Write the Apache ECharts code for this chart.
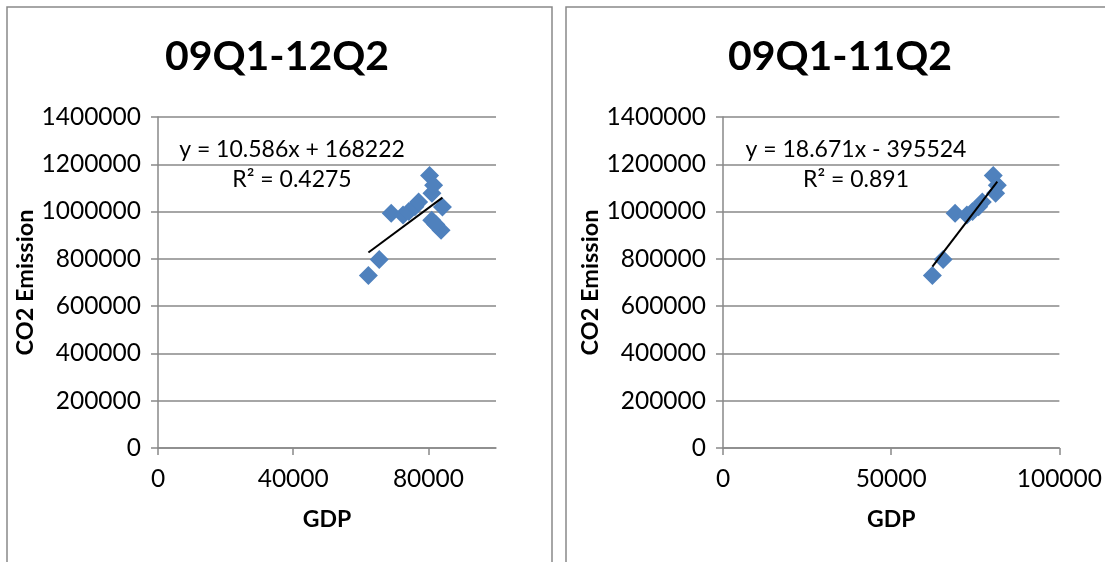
<!DOCTYPE html>
<html>
<head>
<meta charset="utf-8">
<script src="https://cdn.jsdelivr.net/npm/echarts@6/dist/echarts.min.js"></script>
<style>
html,body{margin:0;padding:0;background:#fff;}
#chart{width:1105px;height:562px;}
</style>
</head>
<body>
<div id="chart"></div>
<script>
// Quarterly GDP and CO2 emission, 09Q1 .. 12Q2 (14 quarters); the right chart uses the first 10 (09Q1 .. 11Q2)
const gdp = [62250, 65450, 69000, 72500, 74200, 76000, 77100, 80350, 81050, 81550, 84150, 83750, 81000, 82200];
const co2 = [730000, 797000, 993000, 985000, 1000000, 1020000, 1040000, 1153000, 1078000, 1111000, 1019000, 920600, 963000, 945000];
const nRight = 10;

// trendline end points
const trendLeftX = [62250, 84150];
const trendLeftY = [827000, 1059000];
const trendRightX = [62250, 81550];
const trendRightY = [766700, 1127100];

const titles = ['09Q1-12Q2', '09Q1-11Q2'];
const equations = ['y = 10.586x + 168222', 'y = 18.671x - 395524'];
const rSquared = ['R² = 0.4275', 'R² = 0.891'];

const yTicks = [0, 200000, 400000, 600000, 800000, 1000000, 1200000, 1400000];
const xTicksLeft = [0, 40000, 80000];
const xTicksRight = [0, 50000, 100000];

const FONT = 'Lato, "Open Sans", sans-serif';
const GRAY = '#898989';

function pairs(xs, ys) { return xs.map((x, i) => [x, ys[i]]); }

function xAxis(gridIndex, max, interval, ticks) {
  return {
    type: 'value', gridIndex, min: 0, max, interval,
    name: 'GDP', nameLocation: 'middle', nameGap: 60,
    nameTextStyle: { fontFamily: FONT, fontWeight: 'bold', fontSize: 23, color: '#000' },
    axisLine: { show: true, lineStyle: { color: GRAY, width: 1.5 } },
    axisTick: { show: true, length: 7, lineStyle: { color: GRAY, width: 1.5 }, customValues: ticks },
    axisLabel: { fontFamily: FONT, fontSize: 24.5, color: '#000', margin: 19, customValues: ticks, formatter: v => String(v) },
    splitLine: { show: false }
  };
}
function yAxis(gridIndex, nameGap) {
  return {
    type: 'value', gridIndex, min: 0, max: 1400000, interval: 200000,
    name: 'CO2 Emission', nameLocation: 'middle', nameGap,
    nameTextStyle: { fontFamily: FONT, fontWeight: 'bold', fontSize: 23.5, color: '#000' },
    axisLine: { show: true, lineStyle: { color: GRAY, width: 1.5 } },
    axisTick: { show: true, length: 7, lineStyle: { color: GRAY, width: 1.5 }, customValues: yTicks },
    axisLabel: { fontFamily: FONT, fontSize: 24.5, color: '#000', margin: 17, customValues: yTicks, formatter: v => String(v) },
    splitLine: { show: true, lineStyle: { color: GRAY, width: 1.5 } }
  };
}

const chart = echarts.init(document.getElementById('chart'), null, { renderer: 'canvas' });

const textStyle = (t, x, y, size, bold) => ({
  type: 'text', x, y, z: 100,
  style: { text: t, textAlign: 'center', textVerticalAlign: 'middle', font: (bold ? 'bold ' : '') + size + 'px ' + FONT, fill: '#000' }
});

const marker = { symbol: 'diamond', symbolSize: 19, itemStyle: { color: '#4F81BD', opacity: 1 }, z: 2 };

chart.setOption({
  backgroundColor: '#fff',
  animation: false,
  grid: [
    { left: 158, top: 117, width: 338, height: 331 },
    { left: 723, top: 117, width: 340, height: 331 }
  ],
  xAxis: [xAxis(0, 100000, 40000, xTicksLeft), xAxis(1, 100000, 50000, xTicksRight)],
  yAxis: [yAxis(0, 113), yAxis(1, 121)],
  series: [
    Object.assign({ type: 'scatter', xAxisIndex: 0, yAxisIndex: 0, data: pairs(gdp, co2) }, marker),
    { type: 'line', xAxisIndex: 0, yAxisIndex: 0, data: pairs(trendLeftX, trendLeftY), symbol: 'none', lineStyle: { color: '#000', width: 2 }, z: 3 },
    Object.assign({ type: 'scatter', xAxisIndex: 1, yAxisIndex: 1, data: pairs(gdp.slice(0, nRight), co2.slice(0, nRight)) }, marker),
    { type: 'line', xAxisIndex: 1, yAxisIndex: 1, data: pairs(trendRightX, trendRightY), symbol: 'none', lineStyle: { color: '#000', width: 2 }, z: 3 }
  ],
  graphic: [
    { type: 'rect', shape: { x: 7, y: 7, width: 545, height: 620 }, style: { fill: null, stroke: GRAY, lineWidth: 1.5 }, z: 0 },
    { type: 'rect', shape: { x: 566, y: 7, width: 600, height: 620 }, style: { fill: null, stroke: GRAY, lineWidth: 1.5 }, z: 0 },
    textStyle(titles[0], 277, 57, 41, true),
    textStyle(titles[1], 840, 57, 41, true),
    textStyle(equations[0], 292, 150, 23, false),
    textStyle(rSquared[0], 292, 180, 23, false),
    textStyle(equations[1], 856, 150, 23, false),
    textStyle(rSquared[1], 856, 180, 23, false)
  ]
});
</script>
</body>
</html>
